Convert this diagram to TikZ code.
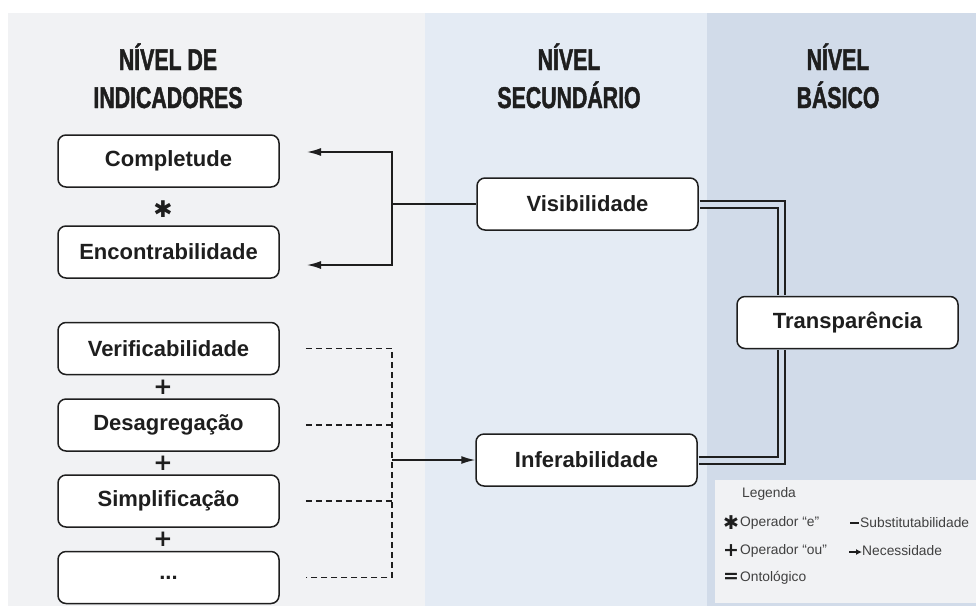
\documentclass[tikz,border=0pt]{standalone}
\usepackage{fontspec}
\setmainfont{Liberation Sans}
\newfontfamily\titlefont[FakeStretch=0.71,FakeBold=1.5]{Liberation Sans}
\newfontfamily\symfont{DejaVu Sans}
\usetikzlibrary{arrows.meta}
\definecolor{panelind}{HTML}{F1F2F4}
\definecolor{panelsec}{HTML}{E4EBF4}
\definecolor{panelbas}{HTML}{D1DBE9}
\definecolor{ink}{HTML}{1E1E1E}
\tikzset{
  levelbox/.style={shape=rectangle,draw=ink,fill=white,line width=1.5pt,
    rounded corners=8pt,minimum width=221pt,minimum height=52pt,inner sep=0pt,
    font=\fontsize{22}{26}\selectfont\bfseries,text=ink},
  leveltitle/.style={align=center,anchor=base,inner sep=0pt,
    font=\titlefont\fontsize{30}{38}\selectfont\bfseries,text=ink},
  oper/.style={inner sep=0pt,font=\symfont\fontsize{23}{23}\selectfont\bfseries,text=ink},
  need/.style={draw=ink,line width=1.5pt,-{Latex[length=14pt,width=8pt]}},
  link/.style={draw=ink,line width=1.5pt},
  dashlink/.style={draw=ink,line width=1.5pt,dash pattern=on 6pt off 4pt},
  ontol/.style={draw=ink,line width=2pt,double=panelbas,double distance=5pt,
    shorten >=0.75pt,shorten <=0.75pt},
  legtext/.style={anchor=west,inner sep=0pt,font=\fontsize{13.8}{16}\selectfont,text=ink!85},
  legsym/.style={inner sep=0pt,font=\symfont\fontsize{19}{19}\selectfont\bfseries,text=ink}
}

\begin{document}
\begin{tikzpicture}[x=1pt,y=-1pt]
  \useasboundingbox (0,0) rectangle (976,606);
  % paineis dos tres niveis
  \fill[panelind] (8,13) rectangle (425,606);
  \fill[panelsec] (425,13) rectangle (707,606);
  \fill[panelbas] (707,13) rectangle (976,606);

  \node (tind) [leveltitle] at (168,108) {NÍVEL DE\\INDICADORES};
  \node (tsec) [leveltitle] at (569,108) {NÍVEL\\SECUNDÁRIO};
  \node (tbas) [leveltitle] at (838,108) {NÍVEL\\BÁSICO};

  % nivel de indicadores
  \node (compl) [levelbox] at (168.5,161) {Completude};
  \node (encon) [levelbox] at (168.5,252) {Encontrabilidade};
  \node (verif) [levelbox] at (168.5,348.5) {Verificabilidade};
  \node (desag) [levelbox] at (168.5,425) {Desagregação};
  \node (simpl) [levelbox] at (168.5,501) {Simplificação};
  \node (outros) [levelbox] at (168.5,577.5) {...};
  \node (opE) [oper] at (163,209) {✱};
  \node (opOu1) [oper] at (163,387) {+};
  \node (opOu2) [oper] at (163,463) {+};
  \node (opOu3) [oper] at (163,539) {+};

  % nivel secundario e basico
  \node (visib) [levelbox] at (587.5,204) {Visibilidade};
  \node (infer) [levelbox] at (586.5,460) {Inferabilidade};
  \node (transp) [levelbox] at (847.5,322.5) {Transparência};

  \coordinate (juncV) at (392,204);
  \coordinate (setaC) at (307,152);
  \coordinate (setaE) at (307,265);
  \coordinate (juncI) at (392,460);

  \draw[link] (visib.west) -- (juncV);
  \draw[need] (juncV) |- (setaC);
  \draw[need] (juncV) |- (setaE);

  \draw[dashlink] ([xshift=26pt]verif.east) -| (juncI |- outros.east)
    -- ([xshift=26pt]outros.east);
  \draw[dashlink] ([xshift=26pt]desag.east) -- (juncI |- desag.east);
  \draw[dashlink] ([xshift=26pt]simpl.east) -- (juncI |- simpl.east);
  \draw[need] (juncI) -- (infer.west);

  \draw[ontol] (visib.east) -| ([xshift=-66pt]transp.north);
  \draw[ontol] (infer.east) -| ([xshift=-66pt]transp.south);

  % legenda
  \node (legbox) [fill=panelind,anchor=north west,inner sep=0pt,
    minimum width=261pt,minimum height=123pt] at (715,480) {};
  \node (legtit) [legtext] at (742,494) {Legenda};
  \node (lgE) [legsym] at (731,523) {✱};
  \node (lgEt) [legtext] at (740,523) {Operador “e”};
  \node (lgOu) [legsym] at (731,551) {+};
  \node (lgOut) [legtext] at (740,551) {Operador “ou”};
  \node (lgOnt) [legsym] at (731,578) {=};
  \node (lgOntt) [legtext] at (740,578) {Ontológico};
  \coordinate (lgSubA) at (850,523);
  \coordinate (lgSubB) at (859,523);
  \draw[link,line width=2.2pt] (lgSubA) -- (lgSubB);
  \node (lgSubt) [legtext] at (860,523) {Substitutabilidade};
  \coordinate (lgNecA) at (849,552);
  \coordinate (lgNecB) at (862,552);
  \draw[draw=ink,line width=1.6pt,-{Latex[length=6pt,width=6pt]}] (lgNecA) -- (lgNecB);
  \node (lgNect) [legtext] at (862,551) {Necessidade};
\end{tikzpicture}
\end{document}
